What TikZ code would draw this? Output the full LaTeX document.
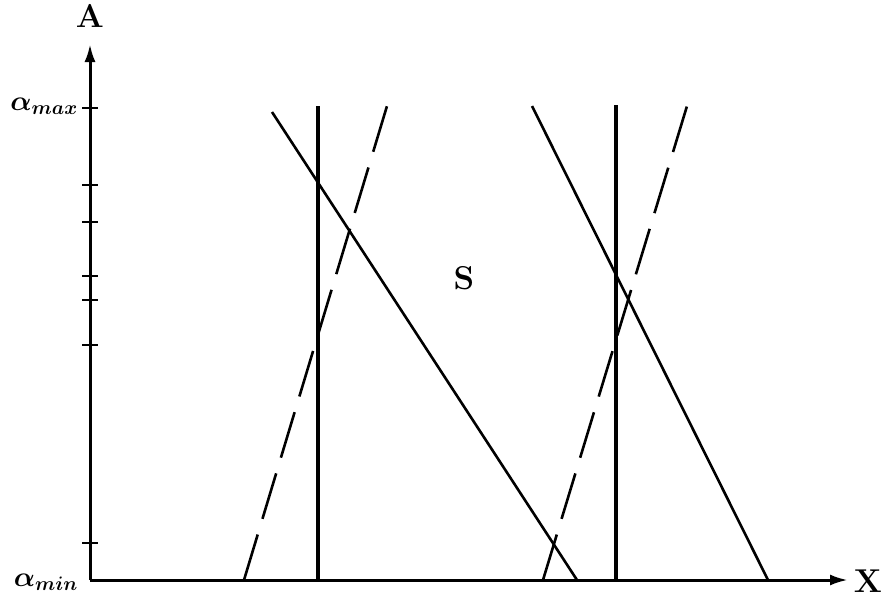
\RequirePackage{fix-cm}
\documentclass[tikz,border=0pt]{standalone}
\usepackage{amsmath,bm}
\usetikzlibrary{arrows.meta}
\begin{document}
\begin{tikzpicture}[x=1pt,y=-1pt,
  axis/.style={line width=3pt,-{Latex[length=18pt,width=11pt]}},
  tick/.style={line width=2.4pt},
  solidline/.style={line width=2.6pt},
  vline/.style={line width=3.2pt},
  dashline/.style={line width=2.6pt,dash pattern=on 47.5pt off 16.4pt},
  lab/.style={inner sep=0pt,font=\fontsize{33}{38}\selectfont\bfseries},
  alab/.style={inner sep=0pt,font=\fontsize{28}{32}\selectfont}]
\useasboundingbox (0,0) rectangle (882,597);
\coordinate (O) at (90,580);
\coordinate (ytop) at (90,44);
\coordinate (xend) at (848,580);
\draw[axis] (O) -- (ytop);
\draw[axis] (O) -- (xend);
\node[lab] (A) at (90,16) {A};
\node[lab] (X) at (868,581) {X};
\node[lab] (S) at (464,278) {S};
\node[alab,anchor=east] (amax) at (78,106) {$\bm{\alpha_{max}}$};
\node[alab,anchor=east] (amin) at (78,582) {$\bm{\alpha_{min}}$};
\foreach \y in {108,185,222,276,300,345,543}
  \draw[tick] (82,\y) -- (98,\y);
% left group
\coordinate (s1a) at (272,112); \coordinate (s1b) at (577,580);
\coordinate (v1a) at (318,106); \coordinate (v1b) at (318,580);
\coordinate (d1a) at (244,580); \coordinate (d1b) at (387,106);
\draw[solidline] (s1a) -- (s1b);
\draw[vline] (v1a) -- (v1b);
\draw[dashline] (d1a) -- (d1b);
% right group
\coordinate (s2a) at (532,106); \coordinate (s2b) at (768,580);
\coordinate (v2a) at (616,105); \coordinate (v2b) at (616,580);
\coordinate (d2a) at (543,580); \coordinate (d2b) at (687,106);
\draw[solidline] (s2a) -- (s2b);
\draw[vline] (v2a) -- (v2b);
\draw[dashline] (d2a) -- (d2b);
\end{tikzpicture}
\end{document}
